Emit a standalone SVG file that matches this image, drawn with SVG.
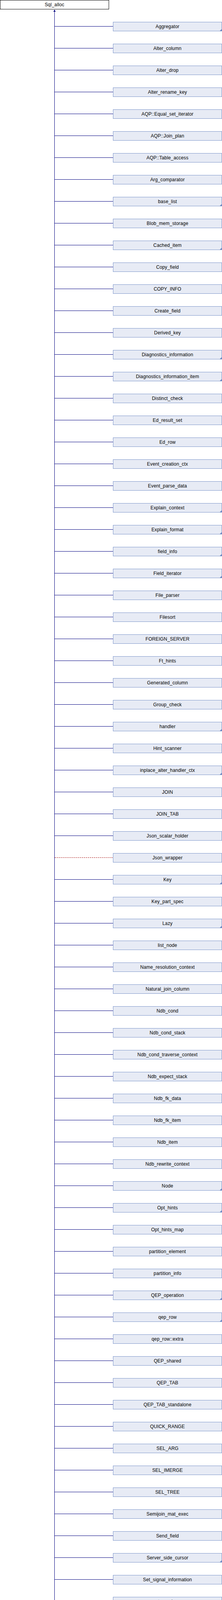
<svg xmlns="http://www.w3.org/2000/svg" xmlns:xlink="http://www.w3.org/1999/xlink" width="568" height="6016" viewBox="0 0 568 6016">
<style>
.root rect{fill:#ffffff;stroke:#000000;stroke-width:1}
.node rect{fill:#e7ebf5;stroke:#7b94c9;stroke-width:1}
text{font-family:"Liberation Sans",Arial,Helvetica,sans-serif;font-size:12px;letter-spacing:0.15px;fill:#000000;text-anchor:middle}
.edges path{fill:none;stroke:#000080;stroke-width:1}
.edges path.priv{stroke:#a00000;stroke-dasharray:3 2}
.corner{fill:#6c87c2}
.head{fill:#000080}
</style>
<defs>
<polygon id="corner" class="corner" points="272.5,23 278,23 278,17.5"/>
</defs>
<rect width="568" height="6016" fill="#ffffff"/>
<g id="connectors" class="edges">
<path d="M139.5 27V6003.5"/>
<polygon class="head" points="139.5,24.5 142.5,30 136.5,30"/>
<path d="M139.5 67.5H289"/>
<path d="M139.5 123.5H289"/>
<path d="M139.5 179.5H289"/>
<path d="M139.5 235.5H289"/>
<path d="M139.5 291.5H289"/>
<path d="M139.5 347.5H289"/>
<path d="M139.5 403.5H289"/>
<path d="M139.5 459.5H289"/>
<path d="M139.5 515.5H289"/>
<path d="M139.5 571.5H289"/>
<path d="M139.5 627.5H289"/>
<path d="M139.5 683.5H289"/>
<path d="M139.5 739.5H289"/>
<path d="M139.5 795.5H289"/>
<path d="M139.5 851.5H289"/>
<path d="M139.5 907.5H289"/>
<path d="M139.5 963.5H289"/>
<path d="M139.5 1019.5H289"/>
<path d="M139.5 1075.5H289"/>
<path d="M139.5 1131.5H289"/>
<path d="M139.5 1187.5H289"/>
<path d="M139.5 1243.5H289"/>
<path d="M139.5 1299.5H289"/>
<path d="M139.5 1355.5H289"/>
<path d="M139.5 1411.5H289"/>
<path d="M139.5 1467.5H289"/>
<path d="M139.5 1523.5H289"/>
<path d="M139.5 1579.5H289"/>
<path d="M139.5 1635.5H289"/>
<path d="M139.5 1691.5H289"/>
<path d="M139.5 1747.5H289"/>
<path d="M139.5 1803.5H289"/>
<path d="M139.5 1859.5H289"/>
<path d="M139.5 1915.5H289"/>
<path d="M139.5 1971.5H289"/>
<path d="M139.5 2027.5H289"/>
<path d="M139.5 2083.5H289"/>
<path d="M139.5 2139.5H289"/>
<path class="priv" d="M140 2195.5H289"/>
<path d="M139.5 2251.5H289"/>
<path d="M139.5 2307.5H289"/>
<path d="M139.5 2363.5H289"/>
<path d="M139.5 2419.5H289"/>
<path d="M139.5 2475.5H289"/>
<path d="M139.5 2531.5H289"/>
<path d="M139.5 2587.5H289"/>
<path d="M139.5 2643.5H289"/>
<path d="M139.5 2699.5H289"/>
<path d="M139.5 2755.5H289"/>
<path d="M139.5 2811.5H289"/>
<path d="M139.5 2867.5H289"/>
<path d="M139.5 2923.5H289"/>
<path d="M139.5 2979.5H289"/>
<path d="M139.5 3035.5H289"/>
<path d="M139.5 3091.5H289"/>
<path d="M139.5 3147.5H289"/>
<path d="M139.5 3203.5H289"/>
<path d="M139.5 3259.5H289"/>
<path d="M139.5 3315.5H289"/>
<path d="M139.5 3371.5H289"/>
<path d="M139.5 3427.5H289"/>
<path d="M139.5 3483.5H289"/>
<path d="M139.5 3539.5H289"/>
<path d="M139.5 3595.5H289"/>
<path d="M139.5 3651.5H289"/>
<path d="M139.5 3707.5H289"/>
<path d="M139.5 3763.5H289"/>
<path d="M139.5 3819.5H289"/>
<path d="M139.5 3875.5H289"/>
<path d="M139.5 3931.5H289"/>
<path d="M139.5 3987.5H289"/>
<path d="M139.5 4043.5H289"/>
<path d="M139.5 4099.5H289"/>
<path d="M139.5 4155.5H289"/>
<path d="M139.5 4211.5H289"/>
<path d="M139.5 4267.5H289"/>
<path d="M139.5 4323.5H289"/>
<path d="M139.5 4379.5H289"/>
<path d="M139.5 4435.5H289"/>
<path d="M139.5 4491.5H289"/>
<path d="M139.5 4547.5H289"/>
<path d="M139.5 4603.5H289"/>
<path d="M139.5 4659.5H289"/>
<path d="M139.5 4715.5H289"/>
<path d="M139.5 4771.5H289"/>
<path d="M139.5 4827.5H289"/>
<path d="M139.5 4883.5H289"/>
<path d="M139.5 4939.5H289"/>
<path d="M139.5 4995.5H289"/>
<path d="M139.5 5051.5H289"/>
<path d="M139.5 5107.5H289"/>
<path d="M139.5 5163.5H289"/>
<path d="M139.5 5219.5H289"/>
<path d="M139.5 5275.5H289"/>
<path d="M139.5 5331.5H289"/>
<path d="M139.5 5387.5H289"/>
<path d="M139.5 5443.5H289"/>
<path d="M139.5 5499.5H289"/>
<path d="M139.5 5555.5H289"/>
<path d="M139.5 5611.5H289"/>
<path d="M139.5 5667.5H289"/>
<path d="M139.5 5723.5H289"/>
<path d="M139.5 5779.5H289"/>
<path d="M139.5 5835.5H289"/>
<path d="M139.5 5891.5H289"/>
<path d="M139.5 5947.5H289"/>
<path d="M139.5 6003.5H289"/>
</g>
<g id="Sql_alloc" class="root" transform="translate(0.5,0.5)"><rect width="278" height="23"/><text x="139" y="15">Sql_alloc</text></g>
<g id="Aggregator" class="node" transform="translate(289.5,56.5)"><rect width="278" height="23"/><text x="139" y="15">Aggregator</text><use xlink:href="#corner"/></g>
<g id="Alter_column" class="node" transform="translate(289.5,112.5)"><rect width="278" height="23"/><text x="139" y="15">Alter_column</text></g>
<g id="Alter_drop" class="node" transform="translate(289.5,168.5)"><rect width="278" height="23"/><text x="139" y="15">Alter_drop</text></g>
<g id="Alter_rename_key" class="node" transform="translate(289.5,224.5)"><rect width="278" height="23"/><text x="139" y="15">Alter_rename_key</text></g>
<g id="AQP_Equal_set_iterator" class="node" transform="translate(289.5,280.5)"><rect width="278" height="23"/><text x="139" y="15">AQP::Equal_set_iterator</text></g>
<g id="AQP_Join_plan" class="node" transform="translate(289.5,336.5)"><rect width="278" height="23"/><text x="139" y="15">AQP::Join_plan</text></g>
<g id="AQP_Table_access" class="node" transform="translate(289.5,392.5)"><rect width="278" height="23"/><text x="139" y="15">AQP::Table_access</text></g>
<g id="Arg_comparator" class="node" transform="translate(289.5,448.5)"><rect width="278" height="23"/><text x="139" y="15">Arg_comparator</text></g>
<g id="base_list" class="node" transform="translate(289.5,504.5)"><rect width="278" height="23"/><text x="139" y="15">base_list</text><use xlink:href="#corner"/></g>
<g id="Blob_mem_storage" class="node" transform="translate(289.5,560.5)"><rect width="278" height="23"/><text x="139" y="15">Blob_mem_storage</text></g>
<g id="Cached_item" class="node" transform="translate(289.5,616.5)"><rect width="278" height="23"/><text x="139" y="15">Cached_item</text><use xlink:href="#corner"/></g>
<g id="Copy_field" class="node" transform="translate(289.5,672.5)"><rect width="278" height="23"/><text x="139" y="15">Copy_field</text></g>
<g id="COPY_INFO" class="node" transform="translate(289.5,728.5)"><rect width="278" height="23"/><text x="139" y="15">COPY_INFO</text></g>
<g id="Create_field" class="node" transform="translate(289.5,784.5)"><rect width="278" height="23"/><text x="139" y="15">Create_field</text></g>
<g id="Derived_key" class="node" transform="translate(289.5,840.5)"><rect width="278" height="23"/><text x="139" y="15">Derived_key</text></g>
<g id="Diagnostics_information" class="node" transform="translate(289.5,896.5)"><rect width="278" height="23"/><text x="139" y="15">Diagnostics_information</text><use xlink:href="#corner"/></g>
<g id="Diagnostics_information_item" class="node" transform="translate(289.5,952.5)"><rect width="278" height="23"/><text x="139" y="15">Diagnostics_information_item</text><use xlink:href="#corner"/></g>
<g id="Distinct_check" class="node" transform="translate(289.5,1008.5)"><rect width="278" height="23"/><text x="139" y="15">Distinct_check</text></g>
<g id="Ed_result_set" class="node" transform="translate(289.5,1064.5)"><rect width="278" height="23"/><text x="139" y="15">Ed_result_set</text></g>
<g id="Ed_row" class="node" transform="translate(289.5,1120.5)"><rect width="278" height="23"/><text x="139" y="15">Ed_row</text></g>
<g id="Event_creation_ctx" class="node" transform="translate(289.5,1176.5)"><rect width="278" height="23"/><text x="139" y="15">Event_creation_ctx</text></g>
<g id="Event_parse_data" class="node" transform="translate(289.5,1232.5)"><rect width="278" height="23"/><text x="139" y="15">Event_parse_data</text></g>
<g id="Explain_context" class="node" transform="translate(289.5,1288.5)"><rect width="278" height="23"/><text x="139" y="15">Explain_context</text><use xlink:href="#corner"/></g>
<g id="Explain_format" class="node" transform="translate(289.5,1344.5)"><rect width="278" height="23"/><text x="139" y="15">Explain_format</text><use xlink:href="#corner"/></g>
<g id="field_info" class="node" transform="translate(289.5,1400.5)"><rect width="278" height="23"/><text x="139" y="15">field_info</text><use xlink:href="#corner"/></g>
<g id="Field_iterator" class="node" transform="translate(289.5,1456.5)"><rect width="278" height="23"/><text x="139" y="15">Field_iterator</text><use xlink:href="#corner"/></g>
<g id="File_parser" class="node" transform="translate(289.5,1512.5)"><rect width="278" height="23"/><text x="139" y="15">File_parser</text></g>
<g id="Filesort" class="node" transform="translate(289.5,1568.5)"><rect width="278" height="23"/><text x="139" y="15">Filesort</text></g>
<g id="FOREIGN_SERVER" class="node" transform="translate(289.5,1624.5)"><rect width="278" height="23"/><text x="139" y="15">FOREIGN_SERVER</text></g>
<g id="Ft_hints" class="node" transform="translate(289.5,1680.5)"><rect width="278" height="23"/><text x="139" y="15">Ft_hints</text></g>
<g id="Generated_column" class="node" transform="translate(289.5,1736.5)"><rect width="278" height="23"/><text x="139" y="15">Generated_column</text></g>
<g id="Group_check" class="node" transform="translate(289.5,1792.5)"><rect width="278" height="23"/><text x="139" y="15">Group_check</text></g>
<g id="handler" class="node" transform="translate(289.5,1848.5)"><rect width="278" height="23"/><text x="139" y="15">handler</text><use xlink:href="#corner"/></g>
<g id="Hint_scanner" class="node" transform="translate(289.5,1904.5)"><rect width="278" height="23"/><text x="139" y="15">Hint_scanner</text></g>
<g id="inplace_alter_handler_ctx" class="node" transform="translate(289.5,1960.5)"><rect width="278" height="23"/><text x="139" y="15">inplace_alter_handler_ctx</text><use xlink:href="#corner"/></g>
<g id="JOIN" class="node" transform="translate(289.5,2016.5)"><rect width="278" height="23"/><text x="139" y="15">JOIN</text></g>
<g id="JOIN_TAB" class="node" transform="translate(289.5,2072.5)"><rect width="278" height="23"/><text x="139" y="15">JOIN_TAB</text></g>
<g id="Json_scalar_holder" class="node" transform="translate(289.5,2128.5)"><rect width="278" height="23"/><text x="139" y="15">Json_scalar_holder</text></g>
<g id="Json_wrapper" class="node" transform="translate(289.5,2184.5)"><rect width="278" height="23"/><text x="139" y="15">Json_wrapper</text></g>
<g id="Key" class="node" transform="translate(289.5,2240.5)"><rect width="278" height="23"/><text x="139" y="15">Key</text><use xlink:href="#corner"/></g>
<g id="Key_part_spec" class="node" transform="translate(289.5,2296.5)"><rect width="278" height="23"/><text x="139" y="15">Key_part_spec</text></g>
<g id="Lazy" class="node" transform="translate(289.5,2352.5)"><rect width="278" height="23"/><text x="139" y="15">Lazy</text><use xlink:href="#corner"/></g>
<g id="list_node" class="node" transform="translate(289.5,2408.5)"><rect width="278" height="23"/><text x="139" y="15">list_node</text></g>
<g id="Name_resolution_context" class="node" transform="translate(289.5,2464.5)"><rect width="278" height="23"/><text x="139" y="15">Name_resolution_context</text></g>
<g id="Natural_join_column" class="node" transform="translate(289.5,2520.5)"><rect width="278" height="23"/><text x="139" y="15">Natural_join_column</text></g>
<g id="Ndb_cond" class="node" transform="translate(289.5,2576.5)"><rect width="278" height="23"/><text x="139" y="15">Ndb_cond</text></g>
<g id="Ndb_cond_stack" class="node" transform="translate(289.5,2632.5)"><rect width="278" height="23"/><text x="139" y="15">Ndb_cond_stack</text></g>
<g id="Ndb_cond_traverse_context" class="node" transform="translate(289.5,2688.5)"><rect width="278" height="23"/><text x="139" y="15">Ndb_cond_traverse_context</text></g>
<g id="Ndb_expect_stack" class="node" transform="translate(289.5,2744.5)"><rect width="278" height="23"/><text x="139" y="15">Ndb_expect_stack</text></g>
<g id="Ndb_fk_data" class="node" transform="translate(289.5,2800.5)"><rect width="278" height="23"/><text x="139" y="15">Ndb_fk_data</text></g>
<g id="Ndb_fk_item" class="node" transform="translate(289.5,2856.5)"><rect width="278" height="23"/><text x="139" y="15">Ndb_fk_item</text></g>
<g id="Ndb_item" class="node" transform="translate(289.5,2912.5)"><rect width="278" height="23"/><text x="139" y="15">Ndb_item</text></g>
<g id="Ndb_rewrite_context" class="node" transform="translate(289.5,2968.5)"><rect width="278" height="23"/><text x="139" y="15">Ndb_rewrite_context</text></g>
<g id="Node" class="node" transform="translate(289.5,3024.5)"><rect width="278" height="23"/><text x="139" y="15">Node</text><use xlink:href="#corner"/></g>
<g id="Opt_hints" class="node" transform="translate(289.5,3080.5)"><rect width="278" height="23"/><text x="139" y="15">Opt_hints</text><use xlink:href="#corner"/></g>
<g id="Opt_hints_map" class="node" transform="translate(289.5,3136.5)"><rect width="278" height="23"/><text x="139" y="15">Opt_hints_map</text></g>
<g id="partition_element" class="node" transform="translate(289.5,3192.5)"><rect width="278" height="23"/><text x="139" y="15">partition_element</text></g>
<g id="partition_info" class="node" transform="translate(289.5,3248.5)"><rect width="278" height="23"/><text x="139" y="15">partition_info</text></g>
<g id="QEP_operation" class="node" transform="translate(289.5,3304.5)"><rect width="278" height="23"/><text x="139" y="15">QEP_operation</text><use xlink:href="#corner"/></g>
<g id="qep_row" class="node" transform="translate(289.5,3360.5)"><rect width="278" height="23"/><text x="139" y="15">qep_row</text><use xlink:href="#corner"/></g>
<g id="qep_row_extra" class="node" transform="translate(289.5,3416.5)"><rect width="278" height="23"/><text x="139" y="15">qep_row::extra</text></g>
<g id="QEP_shared" class="node" transform="translate(289.5,3472.5)"><rect width="278" height="23"/><text x="139" y="15">QEP_shared</text></g>
<g id="QEP_TAB" class="node" transform="translate(289.5,3528.5)"><rect width="278" height="23"/><text x="139" y="15">QEP_TAB</text></g>
<g id="QEP_TAB_standalone" class="node" transform="translate(289.5,3584.5)"><rect width="278" height="23"/><text x="139" y="15">QEP_TAB_standalone</text></g>
<g id="QUICK_RANGE" class="node" transform="translate(289.5,3640.5)"><rect width="278" height="23"/><text x="139" y="15">QUICK_RANGE</text></g>
<g id="SEL_ARG" class="node" transform="translate(289.5,3696.5)"><rect width="278" height="23"/><text x="139" y="15">SEL_ARG</text></g>
<g id="SEL_IMERGE" class="node" transform="translate(289.5,3752.5)"><rect width="278" height="23"/><text x="139" y="15">SEL_IMERGE</text></g>
<g id="SEL_TREE" class="node" transform="translate(289.5,3808.5)"><rect width="278" height="23"/><text x="139" y="15">SEL_TREE</text></g>
<g id="Semijoin_mat_exec" class="node" transform="translate(289.5,3864.5)"><rect width="278" height="23"/><text x="139" y="15">Semijoin_mat_exec</text></g>
<g id="Send_field" class="node" transform="translate(289.5,3920.5)"><rect width="278" height="23"/><text x="139" y="15">Send_field</text></g>
<g id="Server_side_cursor" class="node" transform="translate(289.5,3976.5)"><rect width="278" height="23"/><text x="139" y="15">Server_side_cursor</text><use xlink:href="#corner"/></g>
<g id="Set_signal_information" class="node" transform="translate(289.5,4032.5)"><rect width="278" height="23"/><text x="139" y="15">Set_signal_information</text></g>
<g id="set_var_base" class="node" transform="translate(289.5,4088.5)"><rect width="278" height="23"/><text x="139" y="15">set_var_base</text><use xlink:href="#corner"/></g>
<g id="SJ_TMP_TABLE" class="node" transform="translate(289.5,4144.5)"><rect width="278" height="23"/><text x="139" y="15">SJ_TMP_TABLE</text></g>
<g id="sp_condition" class="node" transform="translate(289.5,4200.5)"><rect width="278" height="23"/><text x="139" y="15">sp_condition</text></g>
<g id="sp_condition_value" class="node" transform="translate(289.5,4256.5)"><rect width="278" height="23"/><text x="139" y="15">sp_condition_value</text></g>
<g id="sp_handler" class="node" transform="translate(289.5,4312.5)"><rect width="278" height="23"/><text x="139" y="15">sp_handler</text></g>
<g id="sp_instr" class="node" transform="translate(289.5,4368.5)"><rect width="278" height="23"/><text x="139" y="15">sp_instr</text><use xlink:href="#corner"/></g>
<g id="sp_label" class="node" transform="translate(289.5,4424.5)"><rect width="278" height="23"/><text x="139" y="15">sp_label</text></g>
<g id="sp_name" class="node" transform="translate(289.5,4480.5)"><rect width="278" height="23"/><text x="139" y="15">sp_name</text></g>
<g id="sp_pcontext" class="node" transform="translate(289.5,4536.5)"><rect width="278" height="23"/><text x="139" y="15">sp_pcontext</text></g>
<g id="sp_rcontext" class="node" transform="translate(289.5,4592.5)"><rect width="278" height="23"/><text x="139" y="15">sp_rcontext</text></g>
<g id="sp_variable" class="node" transform="translate(289.5,4648.5)"><rect width="278" height="23"/><text x="139" y="15">sp_variable</text></g>
<g id="Sql_cmd" class="node" transform="translate(289.5,4704.5)"><rect width="278" height="23"/><text x="139" y="15">Sql_cmd</text><use xlink:href="#corner"/></g>
<g id="Sql_condition" class="node" transform="translate(289.5,4760.5)"><rect width="278" height="23"/><text x="139" y="15">Sql_condition</text></g>
<g id="SQL_CRYPT" class="node" transform="translate(289.5,4816.5)"><rect width="278" height="23"/><text x="139" y="15">SQL_CRYPT</text></g>
<g id="SQL_I_List_T" class="node" transform="translate(289.5,4872.5)"><rect width="278" height="23"/><text x="139" y="15">SQL_I_List&lt; T &gt;</text></g>
<g id="SQL_I_List_Item_trigger_field" class="node" transform="translate(289.5,4928.5)"><rect width="278" height="23"/><text x="139" y="15">SQL_I_List&lt; Item_trigger_field &gt;</text></g>
<g id="SQL_I_List_SQL_I_List_Item_trigger_field" class="node" transform="translate(289.5,4984.5)"><rect width="278" height="23"/><text x="139" y="15">SQL_I_List&lt; SQL_I_List&lt; Item_trigger_field &gt; &gt;</text></g>
<g id="SQL_I_List_st_order" class="node" transform="translate(289.5,5040.5)"><rect width="278" height="23"/><text x="139" y="15">SQL_I_List&lt; st_order &gt;</text></g>
<g id="SQL_I_List_TABLE_LIST" class="node" transform="translate(289.5,5096.5)"><rect width="278" height="23"/><text x="139" y="15">SQL_I_List&lt; TABLE_LIST &gt;</text></g>
<g id="st_alter_tablespace" class="node" transform="translate(289.5,5152.5)"><rect width="278" height="23"/><text x="139" y="15">st_alter_tablespace</text></g>
<g id="st_position" class="node" transform="translate(289.5,5208.5)"><rect width="278" height="23"/><text x="139" y="15">st_position</text></g>
<g id="st_table_ref" class="node" transform="translate(289.5,5264.5)"><rect width="278" height="23"/><text x="139" y="15">st_table_ref</text></g>
<g id="store_key" class="node" transform="translate(289.5,5320.5)"><rect width="278" height="23"/><text x="139" y="15">store_key</text><use xlink:href="#corner"/></g>
<g id="Stored_routine_creation_ctx" class="node" transform="translate(289.5,5376.5)"><rect width="278" height="23"/><text x="139" y="15">Stored_routine_creation_ctx</text></g>
<g id="subselect_engine" class="node" transform="translate(289.5,5432.5)"><rect width="278" height="23"/><text x="139" y="15">subselect_engine</text><use xlink:href="#corner"/></g>
<g id="Table_trigger_dispatcher" class="node" transform="translate(289.5,5488.5)"><rect width="278" height="23"/><text x="139" y="15">Table_trigger_dispatcher</text></g>
<g id="thread_info" class="node" transform="translate(289.5,5544.5)"><rect width="278" height="23"/><text x="139" y="15">thread_info</text></g>
<g id="Time_zone" class="node" transform="translate(289.5,5600.5)"><rect width="278" height="23"/><text x="139" y="15">Time_zone</text><use xlink:href="#corner"/></g>
<g id="Trigger" class="node" transform="translate(289.5,5656.5)"><rect width="278" height="23"/><text x="139" y="15">Trigger</text></g>
<g id="Trigger_chain" class="node" transform="translate(289.5,5712.5)"><rect width="278" height="23"/><text x="139" y="15">Trigger_chain</text></g>
<g id="Trigger_creation_ctx" class="node" transform="translate(289.5,5768.5)"><rect width="278" height="23"/><text x="139" y="15">Trigger_creation_ctx</text></g>
<g id="Tz_names_entry" class="node" transform="translate(289.5,5824.5)"><rect width="278" height="23"/><text x="139" y="15">Tz_names_entry</text></g>
<g id="udf_handler" class="node" transform="translate(289.5,5880.5)"><rect width="278" height="23"/><text x="139" y="15">udf_handler</text></g>
<g id="Unique" class="node" transform="translate(289.5,5936.5)"><rect width="278" height="23"/><text x="139" y="15">Unique</text></g>
<g id="View_creation_ctx" class="node" transform="translate(289.5,5992.5)"><rect width="278" height="23"/><text x="139" y="15">View_creation_ctx</text></g>
</svg>
